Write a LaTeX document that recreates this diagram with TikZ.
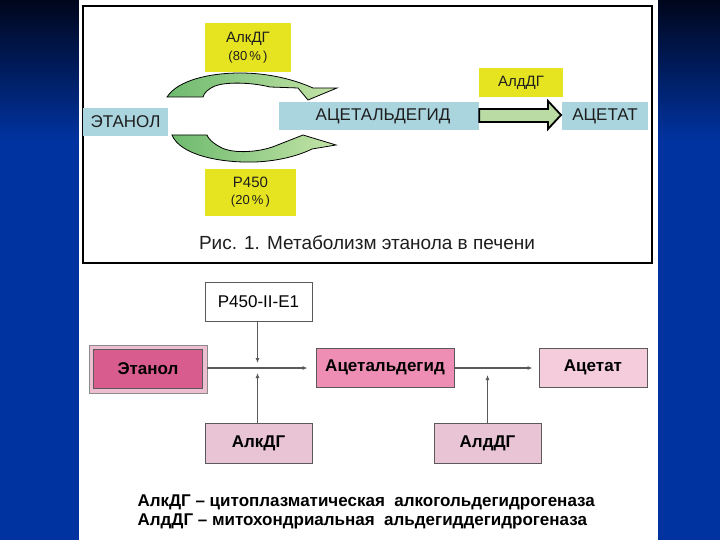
\documentclass[tikz,border=0pt]{standalone}
\usepackage{fontspec}
\setmainfont{Liberation Sans}
\usetikzlibrary{arrows.meta}
\definecolor{bgtop}{RGB}{0,6,28}
\definecolor{bgblue}{RGB}{0,51,160}
\definecolor{lblue}{RGB}{170,213,222}
\definecolor{yel}{RGB}{230,228,32}
\definecolor{gdark}{RGB}{110,186,110}
\definecolor{glight}{RGB}{196,228,168}
\definecolor{garrow}{RGB}{186,220,164}
\definecolor{pdark}{RGB}{216,92,142}
\definecolor{pouter}{RGB}{236,190,208}
\definecolor{pmid}{RGB}{238,142,180}
\definecolor{plight}{RGB}{244,204,220}
\definecolor{penz}{RGB}{232,196,212}
\definecolor{lgray}{RGB}{90,90,90}
\definecolor{txt}{RGB}{30,30,30}
\tikzset{
  topbox/.style={fill=lblue, inner sep=0pt, text=txt, font=\fontsize{17}{19}\selectfont},
  yelbox/.style={fill=yel, inner sep=0pt, align=center, text=txt},
  botbox/.style={draw=lgray, line width=0.9pt, inner sep=0pt, font=\bfseries\fontsize{17}{19}\selectfont},
  conn/.style={draw=lgray, line width=1.1pt, -{Latex[length=5pt,width=4pt]}},
  band/.style={left color=gdark, right color=glight, draw=black, line width=0.8pt}
}
\begin{document}
\begin{tikzpicture}[x=1pt,y=-1pt]
\useasboundingbox (0,0) rectangle (720,540);
% slide background
\shade[top color=bgtop, bottom color=bgblue] (0,0) rectangle (720,140);
\fill[bgblue] (0,140) rectangle (720,540);
\fill[white] (79,0) rectangle (658,540);
% ---------- top panel ----------
\draw[line width=1.8pt] (83,6) rectangle (652,263);
\node[topbox, minimum width=85pt, minimum height=28pt] (etanol) at (125.5,122) {ЭТАНОЛ};
\node[topbox, minimum width=200pt, minimum height=28pt] (acet) at (379,116) {\hspace{8pt}АЦЕТАЛЬДЕГИД};
\node[topbox, minimum width=86pt, minimum height=28pt] (acetat) at (605,116) {АЦЕТАТ};
\node[yelbox, minimum width=86pt, minimum height=49pt] (alk) at (248,47.5)
  {{\fontsize{15}{16}\selectfont АлкДГ}\\[5pt]{\fontsize{13}{14}\selectfont (80\,\%\,)}};
\node[yelbox, minimum width=91pt, minimum height=47pt] (p450) at (250.5,192.5)
  {{\fontsize{15}{16}\selectfont P450}\\[5pt]{\fontsize{13}{14}\selectfont (20\,\%\,)}};
\node[yelbox, minimum width=84pt, minimum height=29pt, font=\fontsize{15}{16}\selectfont] (ald) at (521,82.5) {АлдДГ};
% curved arrows
\shadedraw[band] (167,97) .. controls (178,80) and (210,73) .. (240,73)
  .. controls (270,73) and (295,80) .. (313,88) -- (337,88) -- (308,100) -- (298,88)
  -- (270,87) .. controls (250,82) and (225,82) .. (215,86)
  .. controls (208,89) and (204,93) .. (203,97) -- cycle;
\shadedraw[band] (172,135) .. controls (180,155) and (220,163) .. (255,162)
  .. controls (280,161) and (300,155) .. (312,149) -- (336,145) -- (303,135)
  -- (275,146) .. controls (260,152) and (235,154) .. (222,148)
  .. controls (212,143) and (208,138) .. (207,135) -- cycle;
% straight arrow
\draw[fill=garrow, line width=1.8pt, line join=miter]
  (acet.east |- 0,109) -- (548,109) -- (548,101) -- (561,115) -- (548,129) -- (548,122)
  -- (acet.east |- 0,122) -- cycle;
\node[text=txt, font=\fontsize{19}{21}\selectfont] (cap) at (367,243) {Рис. 1. Метаболизм этанола в печени};
% ---------- bottom panel ----------
\node[botbox, font=\fontsize{17}{19}\selectfont, fill=white, minimum width=107pt, minimum height=39pt] (p450b) at (258.5,301.5) {P450-II-E1};
\node[draw=lgray!70, line width=0.8pt, fill=pouter, minimum width=118pt, minimum height=48pt, inner sep=0pt] (etout) at (148,369) {};
\node[botbox, fill=pdark, minimum width=109pt, minimum height=39pt] (etanol2) at (148,369) {Этанол};
\node[botbox, fill=pmid, minimum width=138pt, minimum height=39pt] (acet2) at (385,367.5) {Ацетальдегид};
\node[botbox, fill=plight, minimum width=108pt, minimum height=39pt] (acetat2) at (593,367.5) {Ацетат};
\node[botbox, fill=penz, minimum width=107pt, minimum height=40pt] (alk2) at (258.5,443) {АлкДГ};
\node[botbox, fill=penz, minimum width=107pt, minimum height=40pt] (ald2) at (487.5,443) {АлдДГ};
\coordinate (jt) at (257.5,363);
\coordinate (jb) at (257.5,373);
\coordinate (ja) at (487.5,375);
\draw[conn, shorten >=8pt] (etout.east |- 0,368) -- (acet2.west |- 0,368);
\draw[conn, shorten >=6pt] (acet2.east |- 0,368) -- (acetat2.west |- 0,368);
\draw[conn] (p450b.south -| jt) -- (jt);
\draw[conn] (alk2.north -| jb) -- (jb);
\draw[conn] (ald2.north) -- (ja);
\node[anchor=west, font=\bfseries\fontsize{17}{19}\selectfont] (leg1) at (134,502) {АлкДГ – цитоплазматическая \ алкогольдегидрогеназа};
\node[anchor=west, font=\bfseries\fontsize{17}{19}\selectfont] (leg2) at (134,521) {АлдДГ – митохондриальная \ альдегиддегидрогеназа};
\end{tikzpicture}
\end{document}
